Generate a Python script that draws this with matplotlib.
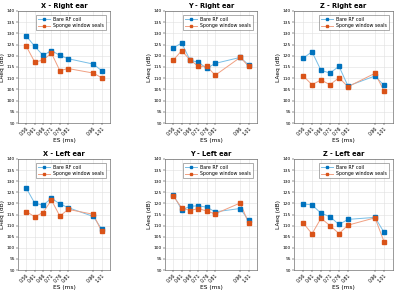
import matplotlib
matplotlib.use("Agg")
import matplotlib.pyplot as plt

es = [0.56, 0.61, 0.66, 0.71, 0.76, 0.81, 0.96, 1.01]
es_labels = ["0.56", "0.61", "0.66", "0.71", "0.76", "0.81", "0.96", "1.01"]
titles = ["X - Right ear", "Y - Right ear", "Z - Right ear",
          "X - Left ear", "Y - Left ear", "Z - Left ear"]

bare_x_right = [128.8, 124.2, 120.2, 122.3, 120.2, 118.7, 116.3, 113.4]
sponge_x_right = [124.2, 117.2, 118.1, 121.2, 113.4, 114.3, 112.3, 110.2]
bare_y_right = [123.6, 125.7, 118.0, 117.1, 114.4, 116.6, 119.3, 115.9]
sponge_y_right = [118.1, 122.3, 118.1, 115.3, 115.3, 111.3, 119.3, 115.3]
bare_z_right = [118.9, 121.8, 113.5, 112.3, 115.3, 106.5, 111.0, 106.8]
sponge_z_right = [111.1, 107.1, 109.2, 107.1, 110.2, 106.2, 112.2, 104.3]
bare_x_left = [126.8, 120.1, 119.2, 122.3, 119.8, 118.1, 114.1, 108.5]
sponge_x_left = [116.3, 114.0, 115.9, 121.5, 114.3, 117.3, 115.1, 107.4]
bare_y_left = [123.9, 117.1, 118.7, 118.9, 118.3, 116.2, 117.7, 112.3]
sponge_y_left = [123.2, 118.0, 116.8, 117.7, 116.5, 115.3, 120.2, 111.0]
bare_z_left = [119.8, 119.3, 115.6, 114.0, 110.5, 112.8, 113.7, 107.0]
sponge_z_left = [111.3, 106.3, 113.3, 110.0, 106.4, 110.2, 113.5, 102.8]

bare = [bare_x_right, bare_y_right, bare_z_right, bare_x_left, bare_y_left, bare_z_left]
sponge = [sponge_x_right, sponge_y_right, sponge_z_right, sponge_x_left, sponge_y_left, sponge_z_left]

W, H = 400, 290
fig = plt.figure(figsize=(4.0, 2.9), dpi=100)

lefts = [18, 165, 294]
rights = [110, 257, 393]
tops = [11, 159]
bottoms = [123, 270]

blue_m = (0/255, 114/255, 189/255)
blue_l = (120/255, 190/255, 230/255)
orange_m = (217/255, 83/255, 25/255)
orange_l = (240/255, 160/255, 130/255)

for i in range(6):
    r, c = divmod(i, 3)
    l, rr = lefts[c], rights[c]
    t, b = tops[r], bottoms[r]
    ax = fig.add_axes([l / W, 1 - b / H, (rr - l) / W, (b - t) / H])
    ax.plot(es, bare[i], color=blue_l, lw=0.7, zorder=2)
    ax.plot(es, sponge[i], color=orange_l, lw=0.7, zorder=2)
    ax.plot(es, bare[i], ls="none", marker="s", ms=2.3, color=blue_m, zorder=3)
    ax.plot(es, sponge[i], ls="none", marker="s", ms=2.3, color=orange_m, zorder=3)
    h1, = ax.plot([], [], color=blue_l, lw=0.7, marker="s", ms=2.0, mfc=blue_m, mec=blue_m)
    h2, = ax.plot([], [], color=orange_l, lw=0.7, marker="s", ms=2.0, mfc=orange_m, mec=orange_m)
    leg = ax.legend([h1, h2], ["Bare RF coil", "Sponge window seals"], loc="upper right",
                    fontsize=3.4, frameon=True, fancybox=False, edgecolor="0.3",
                    borderpad=0.4, handlelength=2.5, labelspacing=0.3,
                    bbox_to_anchor=(0.985, 0.985))
    leg.get_frame().set_linewidth(0.4)
    ax.set_xlim(0.51, 1.06)
    ax.set_ylim(90, 140)
    ax.set_xticks(es)
    ax.set_xticklabels(es_labels, rotation=45, fontsize=3.3, ha="right",
                       rotation_mode="anchor")
    ax.set_yticks(range(90, 141, 5))
    ax.tick_params(axis="y", labelsize=3.2)
    ax.tick_params(length=1.2, width=0.3, pad=1)
    ax.grid(True, color="0.88", lw=0.4)
    ax.set_axisbelow(True)
    for s in ax.spines.values():
        s.set_linewidth(0.4)
        s.set_color("0.3")
    ax.set_title(titles[i], fontsize=4.8, fontweight="bold", pad=2)
    ax.set_xlabel("ES (ms)", fontsize=4.2, labelpad=1.0)
    ax.set_ylabel("LAeq (dB)", fontsize=4.2, labelpad=0.8)

fig.savefig("out.png", dpi=100)
